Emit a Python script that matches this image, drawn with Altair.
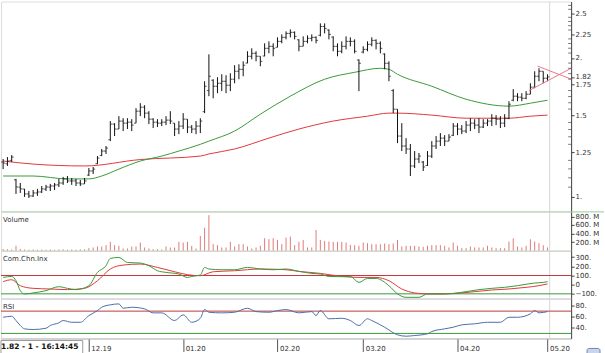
import altair as alt
import pandas as pd

# ---------------- data ----------------
high = [1.208,1.220,1.232,1.094,1.072,1.041,1.030,1.035,1.041,1.056,
        1.062,1.067,1.072,1.094,1.105,1.110,1.099,1.094,1.088,1.099,
        1.155,1.161,1.226,1.270,1.289,1.460,1.445,1.496,1.481,1.481,
        1.474,1.557,1.596,1.580,1.534,1.481,1.474,1.474,1.496,1.534,
        1.445,1.460,1.519,1.474,1.431,1.460,1.481,1.781,2.037,1.799,
        1.817,1.844,1.835,1.853,1.929,1.938,1.967,2.068,2.099,2.068,
        2.017,2.152,2.173,2.152,2.217,2.250,2.284,2.307,2.284,2.195,
        2.228,2.239,2.250,2.228,2.377,2.377,2.307,2.228,2.152,2.173,
        2.228,2.217,2.195,1.987,2.120,2.173,2.217,2.195,2.173,2.047,
        1.967,1.712,1.549,1.445,1.341,1.302,1.257,1.245,1.196,1.257,
        1.321,1.355,1.375,1.361,1.368,1.445,1.445,1.431,1.460,1.481,
        1.474,1.481,1.474,1.474,1.511,1.504,1.496,1.511,1.612,1.712,
        1.678,1.678,1.695,1.763,1.872,1.900,1.872,1.844]
low = [1.149,1.167,1.190,1.015,1.020,1.000,0.995,1.000,1.005,1.020,
       1.030,1.030,1.035,1.051,1.062,1.072,1.062,1.056,1.056,1.067,
       1.110,1.121,1.178,1.226,1.239,1.321,1.355,1.403,1.389,1.403,
       1.389,1.445,1.496,1.481,1.438,1.410,1.417,1.424,1.431,1.438,
       1.355,1.368,1.403,1.375,1.375,1.368,1.375,1.519,1.653,1.636,
       1.678,1.695,1.678,1.695,1.763,1.799,1.826,1.948,1.987,1.967,
       1.919,2.017,2.047,2.017,2.109,2.152,2.195,2.217,2.195,2.068,
       2.120,2.152,2.173,2.152,2.228,2.261,2.195,2.068,2.017,2.047,
       2.088,2.120,2.047,1.695,2.047,2.068,2.120,2.088,2.047,1.890,
       1.781,1.519,1.308,1.257,1.239,1.110,1.155,1.184,1.138,1.167,
       1.214,1.270,1.289,1.289,1.321,1.355,1.361,1.368,1.375,1.389,
       1.403,1.375,1.410,1.424,1.424,1.431,1.410,1.417,1.474,1.612,
       1.612,1.612,1.628,1.669,1.720,1.781,1.763,1.781]
open_ = [1.190,1.180,1.200,1.090,1.050,1.040,1.015,1.005,1.020,1.025,
         1.040,1.050,1.056,1.062,1.072,1.094,1.083,1.083,1.072,1.067,
         1.115,1.138,1.180,1.230,1.257,1.330,1.438,1.403,1.460,1.445,
         1.452,1.445,1.534,1.565,1.519,1.474,1.452,1.445,1.452,1.467,
         1.445,1.403,1.424,1.474,1.417,1.403,1.424,1.530,1.700,1.790,
         1.737,1.763,1.781,1.746,1.799,1.872,1.890,1.950,2.017,2.047,
         2.017,2.020,2.099,2.120,2.110,2.173,2.217,2.261,2.273,2.190,
         2.120,2.173,2.206,2.217,2.240,2.341,2.300,2.220,2.120,2.068,
         2.120,2.173,2.173,1.980,2.060,2.088,2.141,2.184,2.152,2.040,
         1.948,1.700,1.549,1.355,1.289,1.270,1.167,1.208,1.190,1.170,
         1.226,1.289,1.321,1.341,1.321,1.360,1.424,1.403,1.389,1.431,
         1.445,1.431,1.417,1.445,1.460,1.481,1.474,1.445,1.480,1.620,
         1.653,1.645,1.636,1.669,1.729,1.826,1.872,1.808]
close = [1.184,1.196,1.220,1.051,1.041,1.015,1.005,1.020,1.025,1.041,
         1.051,1.056,1.062,1.072,1.094,1.083,1.083,1.072,1.067,1.083,
         1.138,1.149,1.214,1.257,1.276,1.438,1.403,1.460,1.445,1.452,
         1.431,1.534,1.565,1.519,1.474,1.452,1.445,1.452,1.467,1.460,
         1.403,1.424,1.474,1.417,1.403,1.424,1.460,1.737,1.826,1.737,
         1.763,1.781,1.746,1.799,1.872,1.890,1.929,2.017,2.047,2.017,
         1.967,2.099,2.120,2.099,2.173,2.217,2.261,2.273,2.228,2.120,
         2.173,2.206,2.217,2.184,2.341,2.318,2.250,2.120,2.068,2.120,
         2.173,2.173,2.068,1.948,2.088,2.141,2.184,2.152,2.099,1.948,
         1.826,1.549,1.355,1.289,1.270,1.167,1.208,1.226,1.161,1.226,
         1.289,1.321,1.341,1.321,1.348,1.424,1.403,1.389,1.431,1.445,
         1.431,1.417,1.445,1.460,1.481,1.474,1.445,1.481,1.588,1.653,
         1.645,1.636,1.669,1.729,1.826,1.872,1.808,1.820]
volume_m = [40,35,30,115,45,30,25,30,25,30,
            25,30,25,30,35,25,30,25,30,35,
            62,76,99,99,131,207,131,115,53,53,
            99,99,191,76,53,39,39,30,99,76,
            76,207,191,207,115,53,345,536,828,154,
            131,76,76,207,99,154,154,99,53,76,
            115,292,269,292,253,154,306,329,131,210,
            253,77,77,483,253,230,215,207,207,207,
            192,138,130,115,192,176,153,153,153,169,
            153,169,253,100,115,115,115,100,92,115,
            130,130,130,115,77,192,115,61,61,100,
            77,77,77,115,77,61,61,61,215,291,
            100,77,115,268,215,176,130,77]

ma_fast_idx = [0, 7, 15, 20, 23, 27, 32, 37, 41, 46, 48, 54, 60, 67, 75, 82, 88, 90, 92, 100, 108, 118, 123, 127]
ma_fast_val = [1.110, 1.110, 1.094, 1.094, 1.110, 1.149, 1.196, 1.226, 1.257, 1.300, 1.321, 1.389,
               1.511, 1.653, 1.799, 1.862, 1.900, 1.890, 1.844, 1.737, 1.628, 1.573, 1.596, 1.620]
ma_slow_idx = [0, 7, 19, 32, 46, 48, 54, 62, 69, 77, 85, 90, 92, 100, 108, 118, 123, 127]
ma_slow_val = [1.196, 1.178, 1.167, 1.205, 1.226, 1.239, 1.270, 1.341, 1.403, 1.460, 1.496,
               1.519, 1.519, 1.504, 1.481, 1.481, 1.496, 1.504]

tri_name = ["upper", "upper", "lower", "lower"]
tri_idx = [124.7, 132.5, 122.7, 132.5]
tri_val = [1.92, 1.80, 1.70, 1.90]

cci_idx = [0, 2, 3, 4, 5, 7, 10, 13, 15, 17, 20, 22, 24, 25, 27, 29, 32, 34, 36, 38, 41, 43, 44, 46,
           47, 48, 51, 54, 57, 60, 63, 66, 69, 72, 74, 76, 79, 81, 83, 85, 87, 90, 92, 94, 97, 99,
           102, 105, 108, 111, 114, 117, 120, 124, 126, 127]
cci_val = [79, 90, 43, -65, -101, -90, -65, -22, -40, -54, -11, 134, 207, 286, 297, 242, 236, 207,
           152, 134, 116, 79, 90, 105, 188, 171, 163, 163, 188, 171, 163, 171, 145, 123, 116, 90, 87,
           90, 25, 68, 68, -11, -101, -138, -138, -101, -101, -95, -76, -54, -40, -29, -11, 18, 25, 33]
sig_idx = [0, 2, 4, 7, 11, 15, 19, 22, 25, 28, 32, 36, 40, 43, 46, 49, 54, 60, 66, 69, 74, 79, 83,
           87, 90, 93, 96, 99, 103, 107, 110, 114, 118, 122, 125, 127]
sig_val = [33, 54, -11, -40, -47, -54, -40, 43, 171, 214, 225, 188, 141, 109, 98, 141, 152, 171, 163,
           145, 123, 90, 79, 79, 43, -47, -90, -101, -101, -90, -76, -58, -47, -29, -11, 8]

rsi_idx = [0, 2, 3, 4, 5, 7, 10, 11, 13, 14, 16, 18, 20, 22, 23, 25, 27, 28, 30, 33, 35, 37, 40, 42,
           44, 46, 47, 48, 51, 54, 57, 59, 62, 64, 66, 69, 72, 73, 74, 76, 79, 81, 83, 85, 86, 89,
           92, 94, 96, 99, 100, 103, 105, 107, 110, 113, 116, 118, 120, 123, 124, 125, 127]
rsi_val = [59, 60.8, 53.1, 44.2, 38.2, 37, 39.3, 44.2, 49, 53.1, 50, 50, 62, 71, 77, 81.3, 83, 75.2,
           77, 74.1, 66.9, 66.9, 53.1, 63.3, 50, 57.2, 72.8, 68, 66.9, 68, 75.2, 69.2, 68, 71, 72.8,
           66.9, 69.2, 62.1, 71, 56.2, 57.2, 53.1, 44.2, 56.2, 53.1, 41.1, 27.5, 25, 26.2, 29.3, 33.4,
           38.2, 41.1, 45.4, 47.2, 50, 50, 59, 59, 65.1, 71, 66.9, 69.2]

price_ticks = [1, 1.25, 1.5, 1.75, 1.82, 2, 2.25, 2.5]
minor_ticks = [1.05, 1.1, 1.15, 1.2, 1.3, 1.35, 1.4, 1.45, 1.55, 1.6, 1.65, 1.7, 1.8, 1.85, 1.9,
               1.95, 2.05, 2.1, 2.15, 2.2, 2.3, 2.35, 2.4, 2.45, 2.55, 2.6]
vol_ticks = [200, 400, 600, 800]
cci_ticks = [-100, 0, 100, 200, 300]
rsi_ticks = [40, 60, 80]
month_idx = [20, 42, 64, 84, 106, 127]
month_lbl = ["12.19", "01.20", "02.20", "03.20", "04.20", "05.20"]
now_idx = 127.5
status_text = "1.82 - 1 - 16:14:45"

# ---------------- styling ----------------
FONT = "DejaVu Sans"
GREEN = "#3a9a3a"
RED = "#e0383c"
SEP_GREEN = "#98cc98"
W = 572

AX = dict(orient="right", title=None, grid=False, domainColor="#444", tickColor="#444",
          labelColor="#333", labelFont=FONT, labelFontSize=7, tickSize=3, labelPadding=1,
          labelOverlap=False)

xsc = alt.Scale(domain=[-0.5, 132.5], nice=False, zero=False)


def xenc(axis):
    return alt.X("i:Q", scale=xsc, axis=axis)


def plain_x_axis(color):
    return alt.Axis(orient="bottom", labels=False, ticks=False, title=None, grid=False, domainColor=color)


bars = pd.DataFrame(dict(i=list(range(len(close))), o=open_, h=high, l=low, c=close, v=volume_m))
now_df = pd.DataFrame({"i": [now_idx]})
one = pd.DataFrame({"a": [0]})


def title_layer(txt):
    return alt.Chart(pd.DataFrame({"t": [txt]})).mark_text(
        align="left", baseline="middle", font=FONT, fontSize=7, color="#333"
    ).encode(x=alt.value(2), y=alt.value(8), text="t:N")


def now_layer(X):
    return alt.Chart(now_df).mark_rule(color="#d6d6d6", strokeWidth=1).encode(x=X)


# ---------------- price panel ----------------
XP = xenc(None)
ysc = alt.Scale(type="log", domain=[0.928, 2.65], nice=False, zero=False)
pax = alt.Axis(values=price_ticks,
               labelExpr="datum.value % 1 == 0 ? format(datum.value, 'd') + '.' : format(datum.value, '.3~f')",
               **AX)

hl = alt.Chart(bars).mark_rule(color="#111", strokeWidth=1).encode(
    x=XP, y=alt.Y("l:Q", scale=ysc, axis=pax), y2="h:Q")
ot = alt.Chart(bars).mark_tick(orient="horizontal", size=2, thickness=1, xOffset=-1, color="#111").encode(
    x=XP, y=alt.Y("o:Q", scale=ysc, axis=pax))
ct = alt.Chart(bars).mark_tick(orient="horizontal", size=2, thickness=1, xOffset=1, color="#111").encode(
    x=XP, y=alt.Y("c:Q", scale=ysc, axis=pax))

ma_f = alt.Chart(pd.DataFrame({"i": ma_fast_idx, "p": ma_fast_val})).mark_line(
    color=GREEN, strokeWidth=1, interpolate="monotone").encode(x=XP, y=alt.Y("p:Q", scale=ysc, axis=pax))
ma_s = alt.Chart(pd.DataFrame({"i": ma_slow_idx, "p": ma_slow_val})).mark_line(
    color=RED, strokeWidth=1, interpolate="monotone").encode(x=XP, y=alt.Y("p:Q", scale=ysc, axis=pax))
tri = alt.Chart(pd.DataFrame({"n": tri_name, "i": tri_idx, "p": tri_val})).mark_line(
    color="#e87888", strokeWidth=1).encode(x=XP, y=alt.Y("p:Q", scale=ysc, axis=pax), detail="n:N")
minor = alt.Chart(pd.DataFrame({"p": minor_ticks, "i": [132.5] * len(minor_ticks)})).mark_tick(
    orient="horizontal", size=3, thickness=1, xOffset=-1.5, color="#444").encode(
    x=XP, y=alt.Y("p:Q", scale=ysc, axis=pax))
sep_top = alt.Chart(one).mark_rule(color=SEP_GREEN, strokeWidth=1).encode(
    x=alt.value(0), x2=alt.value(605), y=alt.value(211))

price = alt.layer(now_layer(XP), ma_s, ma_f, hl, ot, ct, tri, minor, sep_top).properties(width=W, height=211)

# ---------------- volume panel ----------------
XV = xenc(plain_x_axis(SEP_GREEN))
vsc = alt.Scale(domain=[0, 905], nice=False, zero=True)
vax = alt.Axis(values=vol_ticks, labelExpr="format(datum.value, 'd') + '. M'", **AX)
vbars = alt.Chart(bars).mark_rule(color="#e07a7a", strokeWidth=1).encode(
    x=XV, y=alt.Y("v:Q", scale=vsc, axis=vax), y2=alt.datum(0))
vol = alt.layer(now_layer(XV), vbars, title_layer("Volume")).properties(width=W, height=39)

# ---------------- CCI panel ----------------
XC = xenc(plain_x_axis("#cfc6dc"))
csc = alt.Scale(domain=[-152, 370], nice=False, zero=False)
cax = alt.Axis(values=cci_ticks,
               labelExpr="datum.value == 0 ? '0' : format(datum.value, 'd') + '.'", **AX)
c_hi = alt.Chart(pd.DataFrame({"y": [100]})).mark_rule(color="#c23a3a", strokeWidth=1).encode(
    y=alt.Y("y:Q", scale=csc, axis=cax))
c_lo = alt.Chart(pd.DataFrame({"y": [-100]})).mark_rule(color=GREEN, strokeWidth=1).encode(
    y=alt.Y("y:Q", scale=csc, axis=cax))
c_sig = alt.Chart(pd.DataFrame({"i": sig_idx, "v": sig_val})).mark_line(
    color=RED, strokeWidth=1, interpolate="monotone").encode(x=XC, y=alt.Y("v:Q", scale=csc, axis=cax))
c_line = alt.Chart(pd.DataFrame({"i": cci_idx, "v": cci_val})).mark_line(
    color=GREEN, strokeWidth=1, interpolate="monotone").encode(x=XC, y=alt.Y("v:Q", scale=csc, axis=cax))
cci = alt.layer(now_layer(XC), c_hi, c_lo, c_sig, c_line, title_layer("Com.Chn.Inx")).properties(
    width=W, height=48)

# ---------------- RSI panel ----------------
rsc = alt.Scale(domain=[20.9, 92.5], nice=False, zero=False)
rax = alt.Axis(values=rsi_ticks, labelExpr="format(datum.value, 'd') + '.'", **AX)
month_expr = " : ".join(f"datum.value == {i} ? '{l}'" for i, l in zip(month_idx, month_lbl)) + " : ''"
xax = alt.Axis(orient="bottom", values=month_idx, labelExpr=month_expr, title=None, grid=False,
               domainColor="#bbbbbb", tickColor="#555", tickSize=13, labelAlign="left", labelOffset=2,
               labelPadding=-3, labelBaseline="middle", labelFont=FONT, labelFontSize=7,
               labelColor="#333", labelFlush=False, labelOverlap=False)
XR = xenc(xax)
r_hi = alt.Chart(pd.DataFrame({"y": [70]})).mark_rule(color="#c23a3a", strokeWidth=1).encode(
    y=alt.Y("y:Q", scale=rsc, axis=rax))
r_lo = alt.Chart(pd.DataFrame({"y": [30]})).mark_rule(color=GREEN, strokeWidth=1).encode(
    y=alt.Y("y:Q", scale=rsc, axis=rax))
r_line = alt.Chart(pd.DataFrame({"i": rsi_idx, "v": rsi_val})).mark_line(
    color="#4a6fa8", strokeWidth=1, interpolate="monotone").encode(
    x=XR, y=alt.Y("v:Q", scale=rsc, axis=rax))
box = alt.Chart(one).mark_rect(fill="white", stroke="#9a9a9a", strokeWidth=1).encode(
    x=alt.value(0), x2=alt.value(82), y=alt.value(42), y2=alt.value(56))
status = alt.Chart(pd.DataFrame({"t": [status_text]})).mark_text(
    align="left", baseline="middle", font=FONT, fontSize=7.5, fontWeight="bold", color="#111").encode(
    x=alt.value(0), y=alt.value(49), text="t:N")
icon = alt.Chart(one).mark_rect(fill="#c9d5ea", stroke="#6f86b4", strokeWidth=1, cornerRadius=2).encode(
    x=alt.value(588), x2=alt.value(601), y=alt.value(50), y2=alt.value(60))
rsi = alt.layer(now_layer(XR), r_hi, r_lo, r_line, title_layer("RSI"), box, status, icon).properties(
    width=W, height=40)

chart = alt.vconcat(price, vol, cci, rsi, spacing=0, bounds="flush", padding=0).configure_view(
    stroke=None).configure(font=FONT, background="white")

chart.save("out.html", embed_options={"renderer": "svg", "actions": False})
